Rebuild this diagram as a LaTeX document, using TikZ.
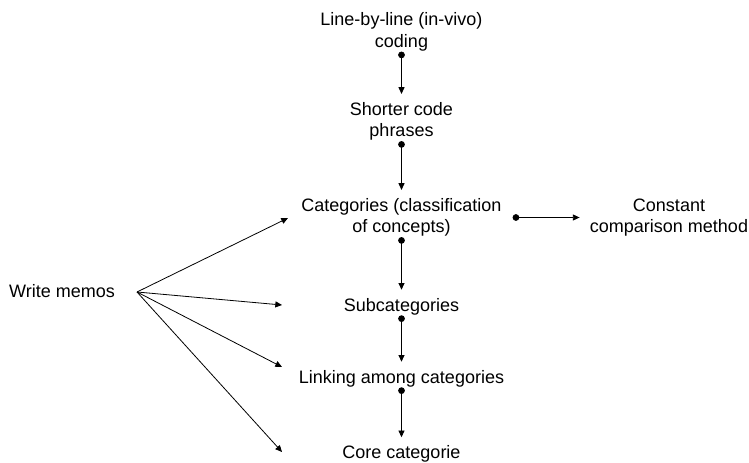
\documentclass[tikz,border=0pt]{standalone}
\usepackage{fontspec}
\setmainfont{Liberation Sans}
\usetikzlibrary{arrows.meta}

\tikzset{every picture/.style={line width=0.6pt}}

\begin{document}
\begin{tikzpicture}[x=0.75pt,y=0.75pt,yscale=-1,xscale=1,
	txt/.style={inner sep=0pt,align=center,font=\fontsize{13.5}{16.2}\selectfont},
	flow/.style={{Circle[length=5pt]}-{Triangle[length=5pt,width=4.5pt]},shorten >=6pt},
	memoline/.style={-{Triangle[length=5pt,width=4.5pt]}}]
				\useasboundingbox (0,0) rectangle (749,463);
				
				% Text Node
				\node[txt] (coding) at (401.5,32) {Line-by-line (in-vivo)\\coding};
				% Text Node
				\node[txt] (phrases) at (401.5,121.5) {Shorter code\\phrases};
				% Text Node
				\node[txt] (cat) at (401.5,217.5) {Categories (classification\\of concepts)};
				% Text Node
				\node[txt] (const) at (669,217.5) {Constant\\comparison method};
				% Text Node
				\node[txt] (subcat) at (401.5,306.5) {Subcategories};
				% Text Node
				\node[txt] (linking) at (401.5,378.5) {Linking among categories};
				% Text Node
				\node[txt] (core) at (401.5,454) {Core categorie};
				% Text Node
				\node[txt] (memo) at (62,291.5) {Write memos};
				
				% memo arrow ends
				\coordinate (memoout) at (137,292);
				\coordinate (tocat) at (288,218);
				\coordinate (tosub) at (282,305);
				\coordinate (tolink) at (282,367);
				\coordinate (tocore) at (282,452);
				
				%Straight Lines
				\draw[flow] (coding.south) -- (phrases.north);
				%Straight Lines
				\draw[flow] (phrases.south) -- (cat.north);
				%Straight Lines
				\draw[flow] (cat.south) -- (subcat.north);
				%Straight Lines
				\draw[flow] (subcat.south) -- (linking.north);
				%Straight Lines
				\draw[flow] (linking.south) -- (core.north);
				%Straight Lines
				\draw[flow,shorten <=8pt,shorten >=7.5pt] (cat.east) -- (const.west);
				
				%Straight Lines
				\draw[memoline] (memoout) -- (tocat);
				%Straight Lines
				\draw[memoline] (memoout) -- (tosub);
				%Straight Lines
				\draw[memoline] (memoout) -- (tolink);
				%Straight Lines
				\draw[memoline] (memoout) -- (tocore);
				
			\end{tikzpicture}
\end{document}
